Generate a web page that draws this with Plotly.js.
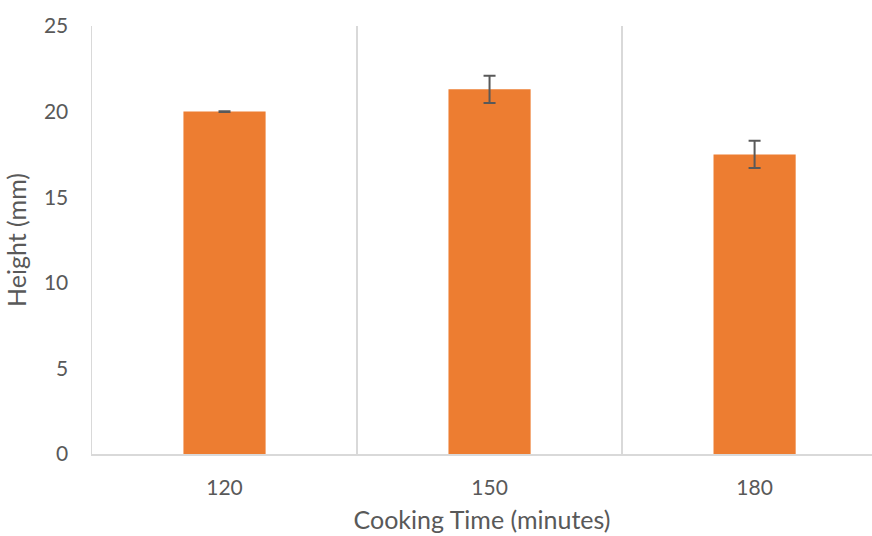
<!DOCTYPE html>
<html>
<head>
<meta charset="utf-8">
<script src="https://cdn.plot.ly/plotly-3.0.1.min.js"></script>
<style>html,body{margin:0;padding:0;background:#fff;}#chart{width:872px;height:536px;}</style>
</head>
<body>
<div id="chart"></div>
<script>
const categories = ["120", "150", "180"];
const heights = [20.0, 21.3, 17.5];
const errors = [0.02, 0.8, 0.8];
const yTicks = [0, 5, 10, 15, 20, 25];

const trace = {
  type: 'bar',
  x: categories,
  y: heights,
  width: 0.31,
  marker: {color: '#ED7D31'},
  error_y: {type: 'data', array: errors, visible: true, color: '#595959', thickness: 2, width: 6},
  hoverinfo: 'x+y'
};

const font = {family: 'Lato, "Open Sans", sans-serif', size: 21, color: '#595959'};

const layout = {
  width: 872, height: 536,
  margin: {l: 92, r: 0, t: 26, b: 82},
  paper_bgcolor: '#fff', plot_bgcolor: '#fff',
  font: font,
  showlegend: false,
  xaxis: {
    type: 'category',
    range: [-0.5, 2.443],
    tickson: 'boundaries',
    showgrid: true, gridcolor: '#d9d9d9', gridwidth: 1.5,
    showline: true, linecolor: '#d9d9d9', linewidth: 1.5,
    ticks: '', ticklabelstandoff: 14,
    tickfont: {family: font.family, size: 21, color: '#595959'},
    title: {text: 'Cooking Time (minutes)', font: {family: font.family, size: 25, color: '#595959'}, standoff: 14},
    zeroline: false
  },
  yaxis: {
    range: [0, 25],
    tickvals: yTicks,
    showgrid: false,
    showline: true, linecolor: '#d9d9d9', linewidth: 1.5,
    ticks: 'outside', ticklen: 18, tickcolor: 'rgba(0,0,0,0)',
    tickfont: {family: font.family, size: 21, color: '#595959'},
    title: {text: 'Height (mm)', font: {family: font.family, size: 25, color: '#595959'}, standoff: 10},
    zeroline: false
  }
};

Plotly.newPlot('chart', [trace], layout, {displayModeBar: false, staticPlot: true});
</script>
</body>
</html>
